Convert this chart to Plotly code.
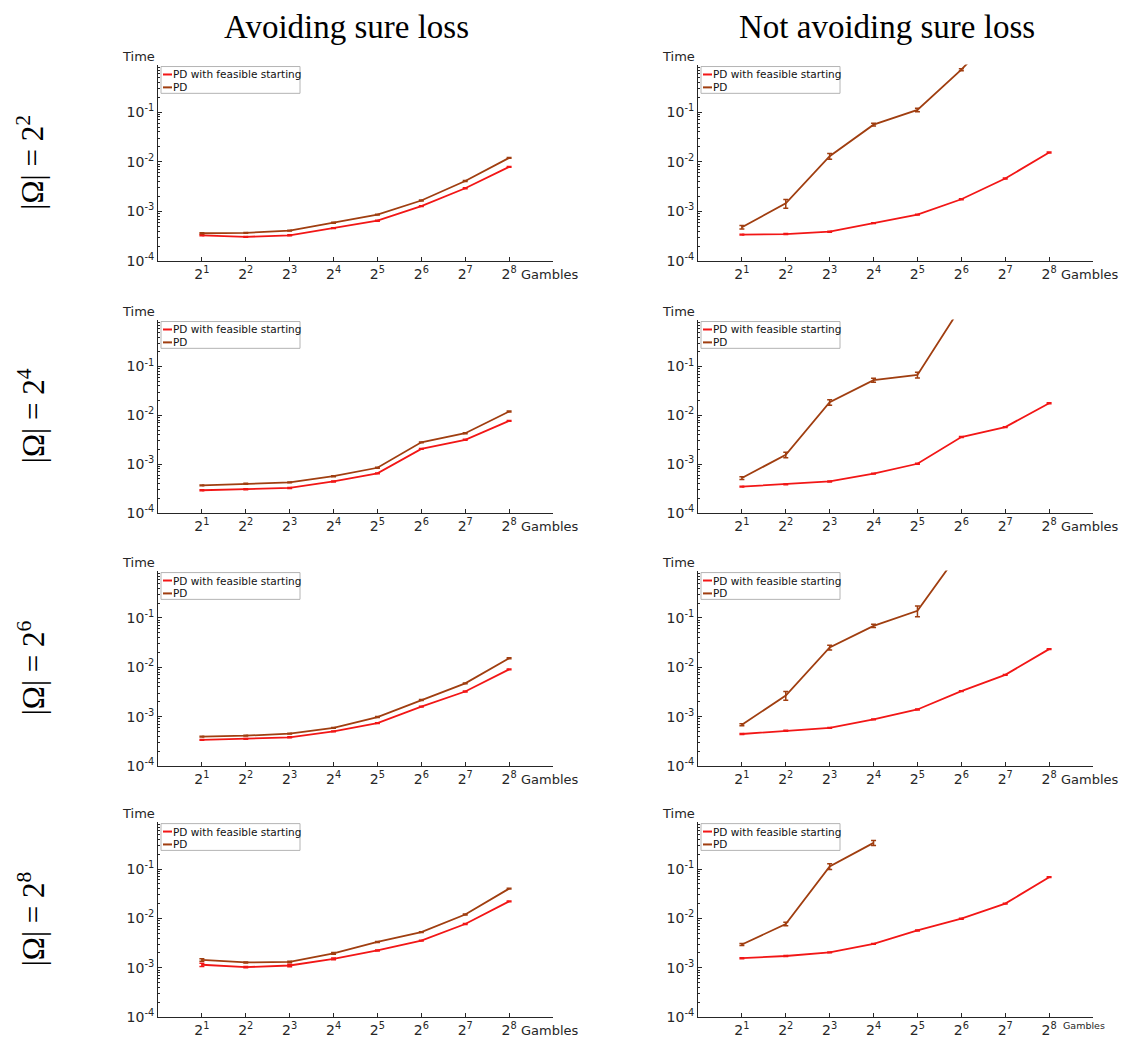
import plotly.graph_objects as go

gambles = [2, 4, 8, 16, 32, 64, 128, 256]
tick_labels = ["2<sup>%d</sup>" % k for k in range(1, 9)]
ytick_vals = [1e-4, 1e-3, 1e-2, 1e-1]
ytick_labels = ["10<sup>-4</sup>", "10<sup>-3</sup>", "10<sup>-2</sup>", "10<sup>-1</sup>"]

col_titles = ["Avoiding sure loss", "Not avoiding sure loss"]
row_labels = ["|Ω| = 2<sup>2</sup>", "|Ω| = 2<sup>4</sup>", "|Ω| = 2<sup>6</sup>", "|Ω| = 2<sup>8</sup>"]
series_names = ["PD with feasible starting", "PD"]

# Row 1 (|Omega| = 2^2)
r1_asl_feasible = [3.3e-4, 3.07e-4, 3.3e-4, 4.6e-4, 6.5e-4, 1.28e-3, 2.93e-3, 7.9e-3]
r1_asl_pd = [3.63e-4, 3.7e-4, 4.1e-4, 5.9e-4, 8.6e-4, 1.66e-3, 4.1e-3, 1.2e-2]
r1_nasl_feasible = [3.4e-4, 3.5e-4, 3.9e-4, 5.8e-4, 8.6e-4, 1.76e-3, 4.6e-3, 1.54e-2]
r1_nasl_pd = [4.8e-4, 1.45e-3, 1.3e-2, 5.6e-2, 0.111, 0.72, 6.0]
r1_nasl_pd_err = [3.8e-5, 2.9e-4, 1.7e-3, 3.5e-3, 9e-3, 3.4e-2, 0]

# Row 2 (|Omega| = 2^4)
r2_asl_feasible = [2.93e-4, 3.07e-4, 3.26e-4, 4.43e-4, 6.5e-4, 2.06e-3, 3.16e-3, 7.7e-3]
r2_asl_pd = [3.69e-4, 3.98e-4, 4.23e-4, 5.67e-4, 8.45e-4, 2.8e-3, 4.3e-3, 1.2e-2]
r2_nasl_feasible = [3.47e-4, 3.86e-4, 4.43e-4, 6.4e-4, 1.02e-3, 3.6e-3, 5.75e-3, 1.77e-2]
r2_nasl_pd = [5.2e-4, 1.56e-3, 1.85e-2, 5.25e-2, 6.7e-2, 1.7]
r2_nasl_pd_err = [3.3e-5, 2.0e-4, 2.4e-3, 5.2e-3, 8.7e-3, 0]

# Row 3 (|Omega| = 2^6)
r3_asl_feasible = [3.39e-4, 3.55e-4, 3.83e-4, 5.04e-4, 7.4e-4, 1.6e-3, 3.24e-3, 9.1e-3]
r3_asl_pd = [3.94e-4, 4.13e-4, 4.53e-4, 5.96e-4, 9.85e-4, 2.18e-3, 4.73e-3, 1.53e-2]
r3_nasl_feasible = [4.46e-4, 5.19e-4, 5.96e-4, 8.85e-4, 1.4e-3, 3.29e-3, 7.05e-3, 2.34e-2]
r3_nasl_pd = [6.9e-4, 2.69e-3, 2.53e-2, 6.93e-2, 0.14, 2.4]
r3_nasl_pd_err = [3.2e-5, 5.4e-4, 2.8e-3, 5.5e-3, 3.4e-2, 0]

# Row 4 (|Omega| = 2^8)
r4_asl_feasible = [1.15e-3, 1.03e-3, 1.11e-3, 1.51e-3, 2.24e-3, 3.55e-3, 7.7e-3, 2.21e-2]
r4_asl_feasible_err = [9e-5, 3e-5, 6e-5, 6e-5, 5e-5, 7e-5, 1.5e-4, 4e-4]
r4_asl_pd = [1.44e-3, 1.28e-3, 1.32e-3, 1.95e-3, 3.33e-3, 5.27e-3, 1.2e-2, 4.01e-2]
r4_asl_pd_err = [8e-5, 3e-5, 4e-5, 8e-5, 7e-5, 1e-4, 2.5e-4, 8e-4]
r4_nasl_feasible = [1.56e-3, 1.73e-3, 2.05e-3, 3.04e-3, 5.69e-3, 9.85e-3, 1.99e-2, 6.83e-2]
r4_nasl_pd = [2.95e-3, 7.7e-3, 0.113, 0.339]
r4_nasl_pd_err = [1.4e-4, 6e-4, 1.5e-2, 3.8e-2]

panels = [
    # (row, col, feasible, feasible_err, pd, pd_err)
    (0, 0, r1_asl_feasible, None, r1_asl_pd, None),
    (0, 1, r1_nasl_feasible, None, r1_nasl_pd, r1_nasl_pd_err),
    (1, 0, r2_asl_feasible, None, r2_asl_pd, None),
    (1, 1, r2_nasl_feasible, None, r2_nasl_pd, r2_nasl_pd_err),
    (2, 0, r3_asl_feasible, None, r3_asl_pd, None),
    (2, 1, r3_nasl_feasible, None, r3_nasl_pd, r3_nasl_pd_err),
    (3, 0, r4_asl_feasible, r4_asl_feasible_err, r4_asl_pd, r4_asl_pd_err),
    (3, 1, r4_nasl_feasible, None, r4_nasl_pd, r4_nasl_pd_err),
]

# page body has an 8px margin; lay the figure out in screen pixels
OFF = 8
W, H = 1128 - 2 * OFF, 1046 - 2 * OFF


def px(x):
    return (x - OFF) / W


def py(y):
    return 1 - (y - OFF) / H


RED = "rgb(242,22,22)"
BROWN = "rgb(160,62,16)"
AXC = "#262626"
FONT = "DejaVu Sans"
SERIF = "Liberation Serif"

col_px = [(158, 553), (698, 1093)]
row_px = [(65, 263), (322, 517), (575, 772), (828, 1025)]
minor_vals = [k * 10.0 ** e for e in range(-4, 0) for k in range(2, 10)]

fig = go.Figure()
layout = dict(
    width=W, height=H, margin=dict(l=0, r=0, t=0, b=0),
    paper_bgcolor="white", plot_bgcolor="white",
    showlegend=False, annotations=[], shapes=[],
)


def err_dict(err, color):
    if err is None:
        return dict(type="percent", value=2, color=color, thickness=1.5, width=2.5)
    return dict(type="data", array=err, symmetric=True, color=color, thickness=1.5, width=2.5)


for idx, (r, c, feas, feas_err, pd_, pd_err) in enumerate(panels):
    n = idx + 1
    xa = "x" if n == 1 else "x%d" % n
    ya = "y" if n == 1 else "y%d" % n
    fig.add_trace(go.Scatter(
        x=gambles[:len(feas)], y=feas, mode="lines", name=series_names[0],
        line=dict(color=RED, width=1.8), error_y=err_dict(feas_err, RED),
        xaxis=xa, yaxis=ya))
    fig.add_trace(go.Scatter(
        x=gambles[:len(pd_)], y=pd_, mode="lines", name=series_names[1],
        line=dict(color=BROWN, width=1.8), error_y=err_dict(pd_err, BROWN),
        xaxis=xa, yaxis=ya))

    x0, x1 = col_px[c]
    y0, y1 = row_px[r]
    xkey = "xaxis" if n == 1 else "xaxis%d" % n
    ykey = "yaxis" if n == 1 else "yaxis%d" % n
    layout[xkey] = dict(
        domain=[px(x0), px(x1)], anchor=ya, type="log", range=[0, 2.70927],
        tickmode="array", tickvals=gambles + [512], ticktext=tick_labels + [""],
        ticks="inside", ticklen=4, tickcolor=AXC, showline=True, linecolor=AXC,
        linewidth=1, showgrid=False, zeroline=False,
        tickfont=dict(family=FONT, size=14, color=AXC),
    )
    layout[ykey] = dict(
        domain=[py(y1), py(y0)], anchor=xa, type="log", range=[-4, -0.04],
        tickmode="array", tickvals=ytick_vals, ticktext=ytick_labels,
        ticks="inside", ticklen=4, tickcolor=AXC, showline=True, linecolor=AXC,
        linewidth=1, showgrid=False, zeroline=False,
        minor=dict(ticks="inside", ticklen=2, tickcolor=AXC, tickmode="array",
                   tickvals=minor_vals, showgrid=False),
        tickfont=dict(family=FONT, size=14, color=AXC),
    )

    # legend box (drawn as in the original: compact, short line samples)
    lx0, ly0 = x0 + 3, y0 + 2
    lx1, ly1 = x0 + (142 if c == 0 else 142), y0 + 29
    layout["shapes"].append(dict(
        type="rect", xref="paper", yref="paper", x0=px(lx0), x1=px(lx1),
        y0=py(ly1), y1=py(ly0), line=dict(color="#b4b4b4", width=1),
        fillcolor="white", layer="above"))
    for k, (name, colr) in enumerate(zip(series_names, [RED, BROWN])):
        yy = ly0 + 8 + 13 * k
        layout["shapes"].append(dict(
            type="line", xref="paper", yref="paper", x0=px(lx0 + 2), x1=px(lx0 + 11),
            y0=py(yy), y1=py(yy), line=dict(color=colr, width=2), layer="above"))
        layout["annotations"].append(dict(
            text=name, x=px(lx0 + 11), y=py(yy), xref="paper", yref="paper",
            xanchor="left", yanchor="middle", showarrow=False, borderpad=0,
            font=dict(family=FONT, size=10.5, color="#111")))

    layout["annotations"].append(dict(
        text="Time", x=px(x0 - 20), y=py(y0 - 8), xref="paper", yref="paper",
        xanchor="center", yanchor="middle", showarrow=False,
        font=dict(family=FONT, size=13, color=AXC)))
    small = (r == 3 and c == 1)
    layout["annotations"].append(dict(
        text="Gambles", x=px(x1 - 33 if not small else x1 - 31),
        y=py(y1 + (14 if not small else 8)), xref="paper", yref="paper",
        xanchor="left", yanchor="middle", showarrow=False, borderpad=0,
        font=dict(family=FONT, size=(13 if not small else 9.5), color=AXC)))

for c, t in enumerate(col_titles):
    x0, x1 = col_px[c]
    layout["annotations"].append(dict(
        text=t, x=px((x0 + x1) / 2 - 9), y=py(27), xref="paper", yref="paper",
        xanchor="center", yanchor="middle", showarrow=False,
        font=dict(family=SERIF, size=33, color="black")))

for r, t in enumerate(row_labels):
    y0, y1 = row_px[r]
    layout["annotations"].append(dict(
        text=t, x=px(31), y=py((y0 + y1) / 2), xref="paper", yref="paper",
        xanchor="center", yanchor="middle", showarrow=False, textangle=-90,
        font=dict(family=SERIF, size=31, color="black")))

fig.update_layout(**layout)
fig.write_html("out.html")
